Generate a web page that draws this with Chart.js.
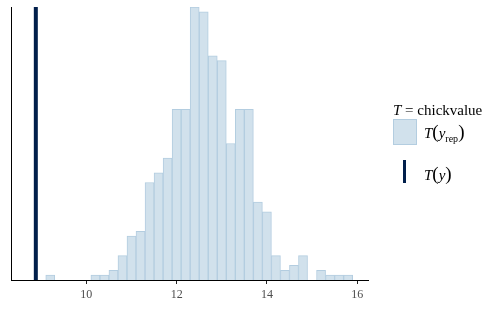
<!DOCTYPE html>
<html>
<head>
<meta charset="utf-8">
<script src="https://cdn.jsdelivr.net/npm/chart.js@4"></script>
<style>
  body { margin: 0; background: #fff; }
  #wrap { position: relative; width: 500px; height: 309px; }
  canvas { display: block; }
  .lg { position: absolute; font-family: "Liberation Serif", serif; color: #000; line-height: 1; white-space: nowrap; }
  .it { font-style: italic; }
  .par { font-size: 19px; }
  .sub { font-size: 10px; vertical-align: -4px; }
</style>
</head>
<body>
<div id="wrap">
  <canvas id="chartStat" width="500" height="309"></canvas>
  <div class="lg" style="left:393px;top:103px;font-size:15px;"><span class="it">T</span> = chickvalue</div>
  <div style="position:absolute;left:393px;top:119px;width:22px;height:24px;background:#d1e1ec;border:1px solid #b3cde0;"></div>
  <div class="lg" style="left:424px;top:122px;font-size:15px;"><span class="it">T</span><span class="par">(</span><span class="it">y</span><span class="sub">rep</span><span class="par">)</span></div>
  <div style="position:absolute;left:403px;top:160px;width:3px;height:23px;background:#011f4b;"></div>
  <div class="lg" style="left:424px;top:164px;font-size:15px;"><span class="it">T</span><span class="par">(</span><span class="it">y</span><span class="par">)</span></div>
</div>
<script>
// bin midpoints (width 0.2) and counts of T(y_rep)
const binMids = [9.2, 9.4, 9.6, 9.8, 10.0, 10.2, 10.4, 10.6, 10.8, 11.0, 11.2, 11.4, 11.6, 11.8,
  12.0, 12.2, 12.4, 12.6, 12.8, 13.0, 13.2, 13.4, 13.6, 13.8, 14.0, 14.2, 14.4, 14.6, 14.8,
  15.0, 15.2, 15.4, 15.6, 15.8]
const counts = [1, 0, 0, 0, 0, 1, 1, 2, 5, 9, 10, 20, 22, 25,
  35, 35, 56, 55, 46, 45, 28, 35, 35, 16, 14, 5, 2, 3, 5,
  0, 2, 1, 1, 1]
const tickVals = [10, 12, 14, 16]
const observedT = 8.88

const xMin = 8.33
const xMax = 16.24
const yMax = 56

var ctxStat = document.getElementById('chartStat').getContext('2d');
var chartStat = new Chart(ctxStat, {
    type: 'bar',
    data: {
        datasets: [{
            type: 'bar',
            data: binMids.map((m, i) => ({ x: m, y: counts[i] })),
            backgroundColor: '#d1e1ec',
            borderColor: '#b3cde0',
            borderWidth: 1,
            barPercentage: 1,
            categoryPercentage: 1,
            order: 2
        }, {
            type: 'line',
            data: [{ x: observedT, y: 0 }, { x: observedT, y: yMax }],
            borderColor: '#011f4b',
            borderWidth: 4,
            pointRadius: 0,
            order: 1
        }]
    },
    options: {
        responsive: false,
        animation: false,
        layout: { padding: { left: 3, top: 7, right: 132, bottom: 2.6 } },
        plugins: { legend: { display: false }, tooltip: { enabled: false } },
        scales: {
            x: {
                type: 'linear',
                min: xMin,
                max: xMax,
                offset: false,
                afterBuildTicks: axis => { axis.ticks = tickVals.map(v => ({ value: v })) },
                grid: { display: true, drawOnChartArea: false, offset: false, tickLength: 4, tickColor: '#222', tickWidth: 1 },
                border: { display: true, color: '#000', width: 1 },
                ticks: { padding: 4, color: '#4d4d4d', font: { family: 'Liberation Serif', size: 12 } }
            },
            y: {
                min: 0,
                max: yMax,
                grid: { display: false },
                border: { display: true, color: '#000', width: 1 },
                ticks: { display: false }
            }
        }
    }
});
</script>
</body>
</html>
